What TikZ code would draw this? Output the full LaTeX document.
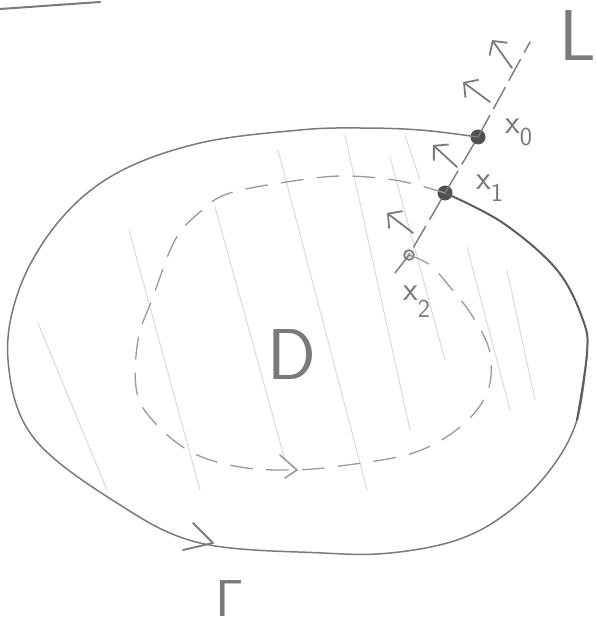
\documentclass[tikz,border=0pt]{standalone}
\usetikzlibrary{arrows.meta}
\definecolor{ink}{HTML}{7A7A7A}
\definecolor{inkdark}{HTML}{5E5E5E}
\definecolor{dashc}{HTML}{9A9A9A}
\definecolor{hatchc}{HTML}{DADADA}
\definecolor{dotc}{HTML}{505050}
\tikzset{
  outline/.style={draw=ink, line width=1.5pt, line cap=round, line join=round},
  outlinedark/.style={draw=inkdark, line width=2pt, line cap=round, line join=round},
  dashloop/.style={draw=dashc, line width=1.3pt, line cap=round, dash pattern=on 22pt off 14pt},
  lline/.style={draw=ink, line width=1.4pt, line cap=round, dash pattern=on 24pt off 8pt},
  hatch/.style={draw=hatchc, line width=1pt, line cap=round},
  blob/.style={circle, fill=dotc, inner sep=0pt, minimum size=15pt},
  smallblob/.style={circle, draw=ink, fill=hatchc, line width=1.5pt, inner sep=0pt, minimum size=10pt},
  normarrow/.style={draw=ink, line width=1.8pt, line cap=round, -{Straight Barb[length=10pt,width=22pt,line width=1.8pt]}},
  tick/.style={draw=ink, line width=1.8pt, line cap=round, line join=round},
  lbl/.style={text=ink, inner sep=0pt, font=\sffamily\fontsize{34}{34}\selectfont},
  biglbl/.style={text=ink, inner sep=0pt, font=\sffamily\fontsize{72}{72}\selectfont},
}
\begin{document}
\begin{tikzpicture}[x=1pt,y=-1pt]
\useasboundingbox (0,0) rectangle (596,631);

% hatching
\draw[hatch] (38,323) -- (107,490);
\draw[hatch] (129,230) -- (200,490);
\draw[hatch] (215,207) -- (285,460);
\draw[hatch] (278,150) -- (367,490);
\draw[hatch] (345,135) -- (410,430);
\draw[hatch] (390,157) -- (445,360);
\draw[hatch] (467,247) -- (510,410);
\draw[hatch] (507,270) -- (535,400);
\draw[hatch] (405,135) -- (420,180);

% top-left stroke
\draw[draw=ink, line width=2pt, line cap=round] (0,9) -- (100,2);

% points
\node[blob] (x0) at (478,137) {};
\node[blob] (x1) at (445,193) {};
\node[smallblob] (x2) at (409,255) {};
\coordinate (lbot) at (395,273);
\coordinate (ltop) at (530,42);
\coordinate (gright) at (587,353);

% outer curve Gamma
\draw[outline] plot[smooth, tension=0.6] coordinates {
 (x0) (420,130) (360,128) (300,130) (200,143) (117,173) (60,220) (20,287)
 (8,360) (33,437) (117,503) (200,543) (323,553) (390,553) (457,540)
 (507,513) (550,470) (577,420) (gright)};
\draw[outlinedark] plot[smooth, tension=0.6] coordinates {
 (577,420) (gright) (583,320) (557,270) (503,223) (x1)};
\draw[tick] (193,523) -- (213,543) -- (183,550);

% dashed loop
\draw[dashloop] plot[smooth, tension=0.6] coordinates {
 (x1) (400,181) (347,176) (300,180) (230,193) (200,212) (175,240) (153,297)
 (138,340) (137,393) (157,425) (193,453) (240,467) (290,470) (340,466)
 (413,453) (460,427) (487,393) (490,353) (473,317) (450,287) (430,265) (x2)};
\draw[draw=dashc, line width=1.6pt, line cap=round, line join=round] (280,455) -- (297,470) -- (285,478);

% line L
\draw[lline] (lbot) -- (x2.center) -- (x1.center) -- (x0.center) -- (ltop);

% normal arrows
\coordinate (a0s) at (512,68);  \coordinate (a0e) at (492,40);
\coordinate (a1s) at (490,102); \coordinate (a1e) at (463,82);
\coordinate (a2s) at (457,167); \coordinate (a2e) at (433,145);
\coordinate (a3s) at (413,233); \coordinate (a3e) at (387,213);
\draw[normarrow] (a0s) -- (a0e);
\draw[normarrow] (a1s) -- (a1e);
\draw[normarrow] (a2s) -- (a2e);
\draw[normarrow] (a3s) -- (a3e);

% labels
\node[lbl, anchor=west] (lx0) at (505,132) {x\raisebox{-0.35em}{\fontsize{26}{26}\selectfont 0}};
\node[lbl, anchor=west] (lx1) at (476,188) {x\raisebox{-0.35em}{\fontsize{26}{26}\selectfont 1}};
\node[lbl, anchor=west] (lx2) at (403,302) {x\raisebox{-0.5em}{\fontsize{26}{26}\selectfont 2}};
\node[biglbl] (lD) at (292,355) {D};
\node[biglbl] (lL) at (578,36) {L};
\node[text=ink, inner sep=0pt, anchor=north] (lG) at (230,580) {\scalebox{5.2}{$\mathsf{\Gamma}$}};
\end{tikzpicture}
\end{document}
